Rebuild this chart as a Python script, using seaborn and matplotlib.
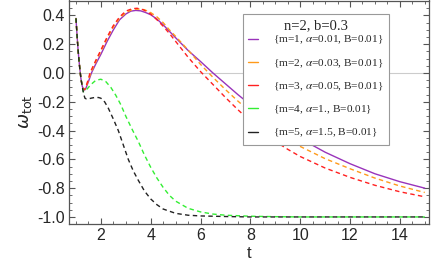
import numpy as np
import pandas as pd
import matplotlib
matplotlib.use("Agg")
import matplotlib.pyplot as plt
import seaborn as sns
from matplotlib.lines import Line2D
from matplotlib.font_manager import FontProperties
from matplotlib.ticker import MultipleLocator

# shared steep drop at the start (all curves coincide here)
t_start = [1.0, 1.04, 1.08, 1.12, 1.16, 1.2, 1.25]
w_start = [0.38, 0.27, 0.17, 0.09, 0.02, -0.04, -0.09]

# m=1, alpha=0.01 (solid purple)
t_m1 = [1.3, 1.35, 1.4, 1.5, 1.62, 1.8, 2.0, 2.25, 2.5, 2.75, 3.0, 3.2, 3.4, 3.6, 3.8,
        4.0, 4.25, 4.5, 4.75, 5.0, 5.5, 6.0, 6.5, 7.0, 7.5, 8.0, 8.5, 9.0, 9.5, 10.0,
        11.0, 12.0, 13.0, 14.0, 15.0]
w_m1 = [-0.115, -0.118, -0.105, -0.06, 0.0, 0.065, 0.13, 0.22, 0.30, 0.37, 0.41, 0.43, 0.435, 0.432, 0.42,
        0.405, 0.375, 0.335, 0.29, 0.245, 0.157, 0.08, 0.0, -0.075, -0.15, -0.22, -0.285, -0.345, -0.40, -0.455,
        -0.55, -0.63, -0.70, -0.755, -0.80]

# m=2, alpha=0.03 (orange dashed)
t_m2 = [1.3, 1.35, 1.4, 1.5, 1.59, 1.8, 2.0, 2.25, 2.5, 2.75, 3.0, 3.25, 3.5, 3.75,
        4.0, 4.25, 4.5, 4.75, 5.0, 5.5, 6.0, 6.5, 7.0, 7.5, 8.0, 8.5, 9.0, 9.5, 10.0,
        11.0, 12.0, 13.0, 14.0, 15.0]
w_m2 = [-0.115, -0.115, -0.10, -0.05, 0.0, 0.08, 0.15, 0.24, 0.32, 0.38, 0.42, 0.44, 0.445, 0.44,
        0.42, 0.39, 0.35, 0.30, 0.255, 0.16, 0.06, -0.03, -0.115, -0.195, -0.27, -0.34, -0.40, -0.46, -0.51,
        -0.595, -0.665, -0.73, -0.785, -0.83]

# m=3, alpha=0.05 (red dashed)
t_m3 = [1.3, 1.35, 1.4, 1.5, 1.56, 1.8, 2.0, 2.25, 2.5, 2.75, 3.0, 3.25, 3.45, 3.7,
        4.0, 4.25, 4.5, 4.75, 5.0, 5.5, 6.0, 6.5, 7.0, 7.5, 8.0, 8.5, 9.0, 9.5, 10.0,
        11.0, 12.0, 13.0, 14.0, 15.0]
w_m3 = [-0.115, -0.113, -0.095, -0.04, 0.0, 0.09, 0.16, 0.25, 0.33, 0.39, 0.43, 0.447, 0.45, 0.44,
        0.41, 0.37, 0.325, 0.275, 0.22, 0.11, 0.01, -0.08, -0.17, -0.255, -0.335, -0.41, -0.475, -0.53, -0.58,
        -0.66, -0.725, -0.78, -0.825, -0.86]

# m=4, alpha=1. (green dashed)
t_m4 = [1.3, 1.35, 1.45, 1.6, 1.8, 2.0, 2.2, 2.4, 2.6, 2.8, 3.0, 3.25, 3.5, 3.75,
        4.0, 4.25, 4.5, 4.75, 5.0, 5.5, 6.0, 6.5, 7.0, 8.0, 9.0, 10.0, 12.0, 15.0]
w_m4 = [-0.13, -0.125, -0.11, -0.08, -0.05, -0.043, -0.06, -0.10, -0.155, -0.22, -0.30, -0.39, -0.475, -0.57,
        -0.655, -0.73, -0.795, -0.85, -0.89, -0.94, -0.965, -0.98, -0.988, -0.995, -0.998, -1.0, -1.0, -1.0]

# m=5, alpha=1.5 (black dashed)
t_m5 = [1.3, 1.36, 1.42, 1.5, 1.6, 1.75, 1.9, 2.0, 2.15, 2.3, 2.5, 2.7, 2.9, 3.1, 3.3,
        3.5, 3.75, 4.0, 4.25, 4.5, 5.0, 5.5, 6.0, 7.0, 8.0, 15.0]
w_m5 = [-0.14, -0.175, -0.18, -0.18, -0.175, -0.17, -0.17, -0.175, -0.20, -0.245, -0.32, -0.40, -0.50, -0.60, -0.68,
        -0.745, -0.82, -0.875, -0.915, -0.945, -0.975, -0.988, -0.993, -0.997, -1.0, -1.0]

labels = [r"{m=1, $\alpha$=0.01, B=0.01}",
          r"{m=2, $\alpha$=0.03, B=0.01}",
          r"{m=3, $\alpha$=0.05, B=0.01}",
          r"{m=4, $\alpha$=1., B=0.01}",
          r"{m=5, $\alpha$=1.5, B=0.01}"]
colors = ["#9933bb", "#ff9a1a", "#ff2020", "#33ee33", "#222222"]

sns.set_style("ticks")
plt.rcParams["font.family"] = ["Liberation Sans", "DejaVu Sans"]

fig = plt.figure(figsize=(4.36, 2.73), dpi=100)
ax = fig.add_axes([69 / 436, 1 - 224 / 273, 360 / 436, 223.5 / 273])

ax.axhline(0, color="#cccccc", lw=0.8, zorder=0)

series = [(t_m1, w_m1), (t_m2, w_m2), (t_m3, w_m3), (t_m4, w_m4), (t_m5, w_m5)]
for i, (tt, ww) in enumerate(series):
    df = pd.DataFrame({"t": t_start + tt, "w": w_start + ww})
    ls = "-" if i == 0 else (0, (3.2, 2.4))
    sns.lineplot(data=df, x="t", y="w", ax=ax, color=colors[i], lw=1.0,
                 linestyle=ls, sort=False, estimator=None, zorder=2 + i)

ax.set_xlim(0.72, 15.17)
ax.set_ylim(-1.049, 0.504)
ax.xaxis.set_major_locator(MultipleLocator(2))
ax.xaxis.set_minor_locator(MultipleLocator(0.5))
ax.yaxis.set_major_locator(MultipleLocator(0.2))
ax.yaxis.set_minor_locator(MultipleLocator(0.05))
ax.yaxis.set_major_formatter(matplotlib.ticker.FormatStrFormatter("%.1f"))
ax.tick_params(which="both", direction="in", top=True, right=True, color="#555555")
ax.tick_params(which="major", length=4, width=0.8, labelsize=11.5, pad=3)
ax.tick_params(which="minor", length=2, width=0.6)
for sp in ax.spines.values():
    sp.set_color("#555555")
    sp.set_linewidth(0.9)

ax.set_xlabel("t", fontsize=12, labelpad=2)
ax.set_ylabel(r"$\omega_{\rm tot}$", fontsize=13, labelpad=2)

handles = [Line2D([0], [0], color=c, lw=1.0) for c in colors]
prop = FontProperties(family="Liberation Serif", size=8.2, math_fontfamily="stix")
leg = ax.legend(handles, labels, prop=prop, title="n=2, b=0.3",
                loc="upper left", bbox_to_anchor=(0.483, 0.9375), borderaxespad=0,
                frameon=True, fancybox=False, framealpha=1, edgecolor="#999999",
                handlelength=0.9, handletextpad=1.3, labelspacing=0.95, borderpad=0.45)
leg.get_title().set_fontproperties(FontProperties(family="Liberation Serif", size=10.5))
leg.get_frame().set_linewidth(0.8)
leg._legend_box.sep = 1

fig.savefig("out.png", dpi=100)
